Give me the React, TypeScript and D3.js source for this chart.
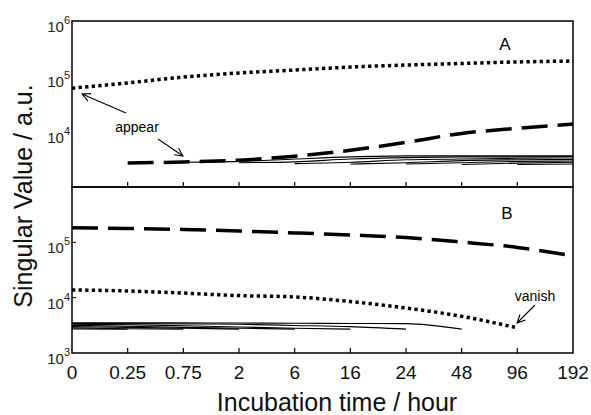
import React, { useRef, useEffect } from 'react';
import * as d3 from 'd3';

// incubation time categories (hours)
const times = ['0', '0.25', '0.75', '2', '6', '16', '24', '48', '96', '192'];

// panel A
const aDotted = [6.1e4, 7.6e4, 9.7e4, 1.15e5, 1.3e5, 1.47e5, 1.6e5, 1.71e5, 1.82e5, 1.89e5];
const aDashedStart = '0.25';
const aDashed = [2.72e3, 2.83e3, 3.05e3, 3.6e3, 4.6e3, 6.4e3, 9.3e3, 1.15e4, 1.37e4];
const aThinStart = ['0.75', '2', '6', '16', '24', '48', '96'];
const aThin = [
  [2.8e3, 2.9e3, 3.2e3, 3.5e3, 3.65e3, 3.65e3, 3.65e3, 3.65e3],
  [2.75e3, 2.85e3, 3.2e3, 3.4e3, 3.5e3, 3.5e3, 3.55e3],
  [2.65e3, 2.8e3, 3.1e3, 3.2e3, 3.3e3, 3.35e3],
  [2.6e3, 2.75e3, 3.0e3, 3.1e3, 3.15e3],
  [2.6e3, 2.75e3, 2.9e3, 2.95e3],
  [2.55e3, 2.7e3, 2.8e3],
  [2.55e3, 2.6e3],
];

// panel B
const bDashed = [1.84e5, 1.78e5, 1.71e5, 1.6e5, 1.48e5, 1.36e5, 1.22e5, 1.01e5, 8.1e4, 5.7e4];
const bDotted = [1.38e4, 1.32e4, 1.21e4, 1.09e4, 1.03e4, 8.5e3, 6.5e3, 4.6e3, 2.85e3];
const bThin = [
  [3.5e3, 3.5e3, 3.5e3, 3.48e3, 3.45e3, 3.42e3, 3.4e3, 2.7e3],
  [3.4e3, 3.4e3, 3.35e3, 3.3e3, 3.15e3, 3.0e3, 2.7e3],
  [3.3e3, 3.25e3, 3.1e3, 2.95e3, 2.8e3, 2.7e3],
  [3.15e3, 3.05e3, 2.9e3, 2.8e3, 2.7e3],
  [3.0e3, 2.9e3, 2.8e3, 2.7e3],
  [2.85e3, 2.75e3, 2.7e3],
  [2.72e3, 2.68e3],
];

const yTicksA = [1e6, 1e5, 1e4];
const yTicksB = [1e5, 1e4, 1e3];

const App = () => {
  const svgRef = useRef<SVGSVGElement>(null);

  useEffect(() => {
    const svg = d3.select(svgRef.current);
    svg.selectAll('*').remove();

    const left = 72, right = 573;
    const topA = 21, mid = 187, botB = 353;
    const font = 'Liberation Sans, Arial, sans-serif';

    const x = d3.scalePoint<string>().domain(times).range([left, right]);
    const yA = d3.scaleLog().domain([1e3, 1e6]).range([mid, topA]);
    const yB = d3.scaleLog().domain([1e3, 1e6]).range([botB, mid]);

    const line = (y: d3.ScaleLogarithmic<number, number>) =>
      d3.line<[string, number]>()
        .x(d => x(d[0]) as number)
        .y(d => y(d[1]))
        .curve(d3.curveMonotoneX);

    const pairs = (start: string, vals: number[]) => {
      const i0 = times.indexOf(start);
      return vals.map((v, i) => [times[i0 + i], v] as [string, number]);
    };

    const draw = (data: [string, number][], y: any, w: number, dash: string | null) => {
      const p = svg.append('path')
        .attr('d', line(y)(data))
        .attr('fill', 'none')
        .attr('stroke', '#000')
        .attr('stroke-width', w);
      if (dash) p.attr('stroke-dasharray', dash);
    };

    // thin lines
    aThin.forEach((vals, i) => draw(pairs(aThinStart[i], vals), yA, 1.1, null));
    bThin.forEach(vals => draw(pairs('0', vals), yB, 1.1, null));

    // thick lines
    draw(pairs('0', aDotted), yA, 3.5, '3.3 3.3');
    draw(pairs(aDashedStart, aDashed), yA, 3.5, '26 10');
    draw(pairs('0', bDashed), yB, 3.5, '26 10');
    draw(pairs('0', bDotted), yB, 3.5, '3.3 3.3');

    // frames
    [[topA, mid], [mid, botB]].forEach(([t, b]) => {
      svg.append('rect')
        .attr('x', left).attr('y', t)
        .attr('width', right - left).attr('height', b - t)
        .attr('fill', 'none').attr('stroke', '#000').attr('stroke-width', 1.5);
    });

    // x ticks (inside, at bottom of each panel)
    [mid, botB].forEach(b => {
      svg.append('g').selectAll('line')
        .data(times.slice(1, -1))
        .enter().append('line')
        .attr('x1', d => x(d) as number).attr('x2', d => x(d) as number)
        .attr('y1', b - 5).attr('y2', b)
        .attr('stroke', '#000').attr('stroke-width', 1.2);
    });

    // x tick labels
    svg.append('g').selectAll('text')
      .data(times)
      .enter().append('text')
      .attr('x', d => x(d) as number)
      .attr('y', 379)
      .attr('text-anchor', 'middle')
      .attr('font-family', font)
      .attr('font-size', 19)
      .attr('fill', '#111')
      .text(d => d);

    // y tick labels
    const yLabels = (ticks: number[], y: any) => {
      ticks.forEach(t => {
        const ty = y(t);
        const txt = svg.append('text')
          .attr('x', 70)
          .attr('y', ty + 11)
          .attr('text-anchor', 'end')
          .attr('font-family', font)
          .attr('font-size', 15)
          .attr('fill', '#222');
        txt.append('tspan').text('10');
        txt.append('tspan').attr('dy', -8).attr('font-size', 11)
          .text(String(Math.round(Math.log10(t))));
      });
    };
    yLabels(yTicksA, yA);
    yLabels(yTicksB, yB);

    // small y ticks in panel B
    svg.append('g').selectAll('line')
      .data([1e5, 1e4])
      .enter().append('line')
      .attr('x1', left).attr('x2', left + 4)
      .attr('y1', d => yB(d)).attr('y2', d => yB(d))
      .attr('stroke', '#000').attr('stroke-width', 1);

    // axis titles
    svg.append('text')
      .attr('x', 337).attr('y', 411)
      .attr('text-anchor', 'middle')
      .attr('font-family', font)
      .attr('font-size', 25)
      .attr('fill', '#111')
      .text('Incubation time / hour');

    svg.append('text')
      .attr('transform', 'translate(32,196) rotate(-90)')
      .attr('text-anchor', 'middle')
      .attr('font-family', font)
      .attr('font-size', 25)
      .attr('fill', '#111')
      .text('Singular Value / a.u.');

    // panel letters
    svg.append('text').attr('x', 505).attr('y', 50)
      .attr('text-anchor', 'middle').attr('font-family', font)
      .attr('font-size', 17).text('A');
    svg.append('text').attr('x', 507).attr('y', 219)
      .attr('text-anchor', 'middle').attr('font-family', font)
      .attr('font-size', 17).text('B');

    // annotations with open arrows
    const arrow = (x1: number, y1: number, x2: number, y2: number) => {
      const a = Math.atan2(y2 - y1, x2 - x1);
      const h = 9, s = 0.45;
      const p = d3.path();
      p.moveTo(x1, y1); p.lineTo(x2, y2);
      p.moveTo(x2 - h * Math.cos(a - s), y2 - h * Math.sin(a - s));
      p.lineTo(x2, y2);
      p.lineTo(x2 - h * Math.cos(a + s), y2 - h * Math.sin(a + s));
      svg.append('path').attr('d', p.toString())
        .attr('fill', 'none').attr('stroke', '#000').attr('stroke-width', 1.1);
    };

    svg.append('text').attr('x', 137).attr('y', 132)
      .attr('text-anchor', 'middle').attr('font-family', font)
      .attr('font-size', 14).text('appear');
    arrow(126, 113, 82, 94);
    arrow(158, 139, 183, 156);

    svg.append('text').attr('x', 535).attr('y', 301)
      .attr('text-anchor', 'middle').attr('font-family', font)
      .attr('font-size', 14).text('vanish');
    arrow(535, 305, 517, 323);
  }, []);

  return (
    <svg ref={svgRef} width={591} height={415}
      style={{ position: 'absolute', left: 0, top: 0, background: '#fff' }}></svg>
  );
};

export default App;
